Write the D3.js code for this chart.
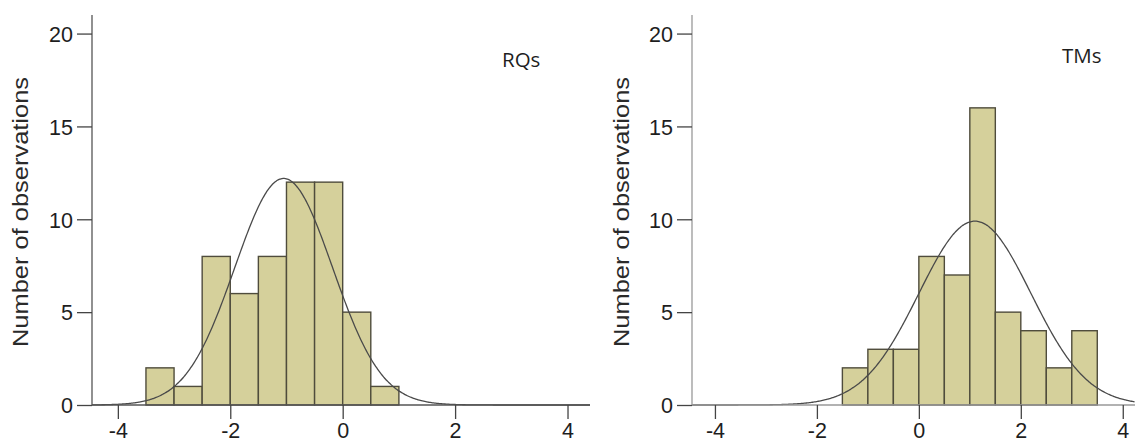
<!DOCTYPE html>
<html lang="en">
<head>
  <meta charset="UTF-8">
  <title>RQs and TMs histograms</title>
  <script src="https://d3js.org/d3.v7.min.js"></script>
  <style>
    body {
      margin: 0;
      background: #fff;
    }
    .tick text {
      font-family: "Liberation Sans", Arial, sans-serif;
      font-size: 21.5px;
      fill: #1e1e1e;
    }
    .ylabel {
      font-family: "Liberation Sans", Arial, sans-serif;
      font-size: 22px;
      fill: #2a2a2a;
    }
    .tag {
      font-family: "Open Sans", "Noto Sans", sans-serif;
      font-size: 20.5px;
      fill: #1e1e1e;
    }
    .bar {
      fill: #d5d09b;
      stroke: #4f4c3c;
      stroke-width: 1.4px;
    }
    .curve {
      fill: none;
      stroke: #4a4a4a;
      stroke-width: 1.3px;
    }
  </style>
</head>
<body>
  <svg width="1135" height="442"></svg>

  <script>
    // bins are 0.5 wide, start = left edge
    const binWidth = 0.5;
    const yTicks = [0, 5, 10, 15, 20];
    const xTicks = [-4, -2, 0, 2, 4];

    const rqStarts = [-3.5, -3, -2.5, -2, -1.5, -1, -0.5, 0, 0.5];
    const rqCounts = [2, 1, 8, 6, 8, 12, 12, 5, 1];
    const rqFit = { mean: -1.05, sd: 0.87, peak: 12.2 };

    const tmStarts = [-1.5, -1, -0.5, 0, 0.5, 1, 1.5, 2, 2.5, 3];
    const tmCounts = [2, 3, 3, 8, 7, 16, 5, 4, 2, 4];
    const tmFit = { mean: 1.1, sd: 1.1, peak: 9.9 };

    const svg = d3.select("svg");

    const panels = [
      {
        name: "RQs", starts: rqStarts, counts: rqCounts, fit: rqFit,
        xDomain: [-4.46, 4.4], xRange: [92, 590],
        labelX: 21, tagX: 502, tagY: 67,
        axisColor: "#555"
      },
      {
        name: "TMs", starts: tmStarts, counts: tmCounts, fit: tmFit,
        xDomain: [-4.45, 4.24], xRange: [692, 1135],
        labelX: 622, tagX: 1062, tagY: 63,
        axisColor: "#999"
      }
    ];

    panels.forEach(p => {
      const g = svg.append("g");
      const x = d3.scaleLinear().domain(p.xDomain).range(p.xRange);
      const y = d3.scaleLinear().domain([0, 21]).range([405, 15]);

      // bars
      g.selectAll("rect")
        .data(p.starts.map((s, i) => ({ s: s, c: p.counts[i] })))
        .join("rect")
        .attr("class", "bar")
        .attr("x", d => x(d.s))
        .attr("y", d => y(d.c))
        .attr("width", d => x(d.s + binWidth) - x(d.s))
        .attr("height", d => y(0) - y(d.c));

      // normal fit curve
      const pts = d3.range(p.xDomain[0], p.xDomain[1] + 0.001, 0.02);
      const f = p.fit;
      const line = d3.line()
        .x(d => x(d))
        .y(d => y(f.peak * Math.exp(-((d - f.mean) ** 2) / (2 * f.sd * f.sd))))
        .curve(d3.curveBasis);
      g.append("path").datum(pts).attr("class", "curve").attr("d", line);

      // x axis
      const xa = g.append("g")
        .attr("transform", `translate(0,${y(0)})`)
        .call(d3.axisBottom(x).tickValues(xTicks).tickSize(14).tickPadding(4)
          .tickFormat(d3.format("d")));
      xa.select(".domain").attr("stroke", p.axisColor).attr("stroke-width", 1.3)
        .attr("d", `M${p.xRange[0]},0H${p.xRange[1]}`);
      xa.selectAll(".tick line").attr("stroke", "#444").attr("stroke-width", 1.3);
      xa.selectAll(".tick text").text(d => d < 0 ? "-" + Math.abs(d) : d);

      // y axis
      const ya = g.append("g")
        .attr("transform", `translate(${p.xRange[0]},0)`)
        .call(d3.axisLeft(y).tickValues(yTicks).tickSize(15).tickPadding(4));
      ya.select(".domain").attr("stroke", p.axisColor).attr("stroke-width", 1.3)
        .attr("d", `M0,${y(0)}V${y(21)}`);
      ya.selectAll(".tick line").attr("stroke", "#444").attr("stroke-width", 1.3);
      ya.selectAll(".tick text").attr("dy", "0.36em");

      g.append("text")
        .attr("class", "ylabel")
        .attr("transform", `translate(${p.labelX + 7},212) rotate(-90)`)
        .attr("text-anchor", "middle")
        .attr("textLength", 270)
        .attr("lengthAdjust", "spacingAndGlyphs")
        .text("Number of observations");

      g.append("text")
        .attr("class", "tag")
        .attr("x", p.tagX)
        .attr("y", p.tagY)
        .text(p.name);
    });
  </script>
</body>
</html>
